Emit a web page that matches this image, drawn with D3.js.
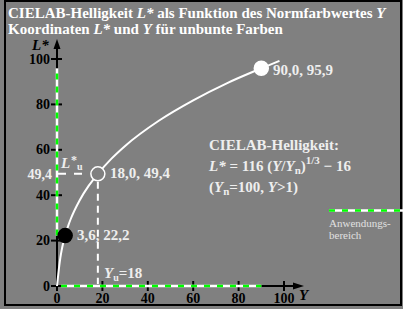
<!DOCTYPE html>
<html><head><meta charset="utf-8">
<script src="https://cdn.jsdelivr.net/npm/d3@7"></script>
<style>html,body{margin:0;padding:0;background:#808080;}svg{display:block;}text{font-family:"Liberation Serif","DejaVu Serif",serif;}</style>
</head><body>
<script>
// Data
const xTicks = [0, 20, 40, 60, 80, 100];
const yTicks = [0, 20, 40, 60, 80, 100];
const curveY = [0, 0.3, 1, 1.5, 2, 2.7, 3.6, 5, 6, 10, 14, 18, 24, 30, 45, 60, 75, 90, 98];
const curveL = [0, 2.7, 9.0, 12.6, 15.5, 18.8, 22.2, 26.7, 29.4, 37.8, 44.2, 49.4, 56.1, 61.7, 72.9, 81.8, 89.4, 95.9, 99.2];
const pointY = [3.6, 18.0, 90.0];
const pointL = [22.2, 49.4, 95.9];
const pointLabels = ["3,6, 22,2", "18,0, 49,4", "90,0, 95,9"];
const rangeY = [0, 90];      // Anwendungsbereich on Y axis
const rangeL = [22.2, 95.9]; // Anwendungsbereich on L* axis

const W = 403, H = 309;
const svg = d3.select("body").append("svg").attr("width", W).attr("height", H);
svg.append("rect").attr("width", W).attr("height", H).attr("fill", "#808080");
svg.append("rect").attr("x", 5).attr("y", 1).attr("width", 396).attr("height", 304)
  .attr("fill", "none").attr("stroke", "#000").attr("stroke-width", 2);

const x = d3.scaleLinear().domain([0, 100]).range([57, 284]);
const y = d3.scaleLinear().domain([0, 100]).range([286, 59]);

// Title
const t1 = svg.append("text").attr("x", 8).attr("y", 18).attr("fill", "#fff")
  .attr("font-size", 15).attr("font-weight", "bold");
t1.append("tspan").text("CIELAB-Helligkeit ");
t1.append("tspan").attr("font-style", "italic").text("L*");
t1.append("tspan").text(" als Funktion des Normfarbwertes ");
t1.append("tspan").attr("font-style", "italic").text("Y");
const t2 = svg.append("text").attr("x", 8).attr("y", 34).attr("fill", "#fff")
  .attr("font-size", 15).attr("font-weight", "bold");
t2.append("tspan").text("Koordinaten ");
t2.append("tspan").attr("font-style", "italic").text("L*");
t2.append("tspan").text(" und ");
t2.append("tspan").attr("font-style", "italic").text("Y");
t2.append("tspan").text(" für unbunte Farben");

// Axes (black base)
const ax = svg.append("g");
ax.append("line").attr("x1", x(0)).attr("y1", y(0)).attr("x2", x(0)).attr("y2", 46)
  .attr("stroke", "#000").attr("stroke-width", 2);
ax.append("path").attr("d", `M${x(0)},39 L${x(0)-3.5},49 L${x(0)+3.5},49 Z`).attr("fill", "#000");
ax.append("line").attr("x1", x(0)).attr("y1", y(0)).attr("x2", 296).attr("y2", y(0))
  .attr("stroke", "#000").attr("stroke-width", 2);
ax.append("path").attr("d", `M304,${y(0)} L293,${y(0)-3.5} L293,${y(0)+3.5} Z`).attr("fill", "#000");

// ticks
xTicks.forEach(v => {
  ax.append("line").attr("x1", x(v)).attr("x2", x(v)).attr("y1", y(0)-5).attr("y2", y(0)+5)
    .attr("stroke", "#000").attr("stroke-width", 2);
  ax.append("text").attr("x", x(v)).attr("y", 303).attr("text-anchor", "middle")
    .attr("font-size", 14).attr("font-weight", "bold").attr("fill", "#000").text(v);
});
yTicks.forEach(v => {
  ax.append("line").attr("x1", x(0)-6).attr("x2", x(0)+5).attr("y1", y(v)).attr("y2", y(v))
    .attr("stroke", "#000").attr("stroke-width", 2);
  ax.append("text").attr("x", x(0)-7).attr("y", y(v)+4.5).attr("text-anchor", "end")
    .attr("font-size", 14).attr("font-weight", "bold").attr("fill", "#000").text(v);
});
svg.append("text").attr("x", 32).attr("y", 50).attr("font-size", 15).attr("font-weight", "bold")
  .attr("font-style", "italic").attr("fill", "#000").text("L*");
svg.append("text").attr("x", 299).attr("y", 300).attr("font-size", 15).attr("font-weight", "bold")
  .attr("font-style", "italic").attr("fill", "#000").text("Y");

// Application range dashes (white + green)
function rangeLine(x1, y1, x2, y2) {
  svg.append("line").attr("x1", x1).attr("y1", y1).attr("x2", x2).attr("y2", y2)
    .attr("stroke", "#fff").attr("stroke-width", 2.5);
  svg.append("line").attr("x1", x1).attr("y1", y1).attr("x2", x2).attr("y2", y2)
    .attr("stroke", "#00ff00").attr("stroke-width", 2.5).attr("stroke-dasharray", "6,7");
}
rangeLine(x(0), y(rangeL[0]), x(0), y(rangeL[1]));
rangeLine(x(rangeY[0]) + 4, y(0), x(rangeY[1]), y(0));
rangeLine(329, 210.5, 403, 210.5);
svg.append("text").attr("x", 329).attr("y", 227).attr("font-size", 11).attr("fill", "#e0e0e0").text("Anwendungs-");
svg.append("text").attr("x", 329).attr("y", 238.5).attr("font-size", 11).attr("fill", "#e0e0e0").text("bereich");

// Guide dashed lines for the 18 / 49,4 point
svg.append("line").attr("x1", x(pointY[1])).attr("x2", x(pointY[1]))
  .attr("y1", y(pointL[1]) + 8).attr("y2", y(0) - 2)
  .attr("stroke", "#fff").attr("stroke-width", 2).attr("stroke-dasharray", "7,5");
svg.append("line").attr("x1", x(0) + 1).attr("x2", x(pointY[1]) - 8)
  .attr("y1", y(pointL[1])).attr("y2", y(pointL[1]))
  .attr("stroke", "#fff").attr("stroke-width", 2).attr("stroke-dasharray", "8,8");

// Curve
const line = d3.line().x(d => x(d[0])).y(d => y(d[1])).curve(d3.curveMonotoneX);
svg.append("path").datum(curveY.map((v, i) => [v, curveL[i]])).attr("d", line)
  .attr("fill", "none").attr("stroke", "#fff").attr("stroke-width", 2);

// Points
const pFill = ["#000", "#808080", "#fff"];
const pStroke = ["#000", "#fff", "#fff"];
pointY.forEach((v, i) => {
  svg.append("circle").attr("cx", x(v)).attr("cy", y(pointL[i])).attr("r", 7)
    .attr("fill", pFill[i]).attr("stroke", pStroke[i]).attr("stroke-width", 1.5);
});
const lblPos = [[77, 240], [110, 178], [273, 75]];
pointLabels.forEach((s, i) => {
  svg.append("text").attr("x", lblPos[i][0]).attr("y", lblPos[i][1]).attr("font-size", 15)
    .attr("font-weight", "bold").attr("fill", "#eee").text(s);
});

// 49,4 and L*u labels
svg.append("text").attr("x", 52).attr("y", y(pointL[1]) + 5).attr("text-anchor", "end")
  .attr("font-size", 14).attr("font-weight", "bold").attr("fill", "#eee").text("49,4");
svg.append("text").attr("x", 61).attr("y", 168).attr("font-size", 15).attr("font-weight", "bold")
  .attr("font-style", "italic").attr("fill", "#eee").text("L");
svg.append("text").attr("x", 71).attr("y", 164).attr("font-size", 12).attr("font-weight", "bold")
  .attr("fill", "#eee").text("*");
svg.append("text").attr("x", 77).attr("y", 170).attr("font-size", 10).attr("font-weight", "bold")
  .attr("fill", "#eee").text("u");

// Yu=18
const yu = svg.append("text").attr("x", 104).attr("y", 278).attr("font-size", 15)
  .attr("font-weight", "bold").attr("fill", "#eee");
yu.append("tspan").attr("font-style", "italic").text("Y");
yu.append("tspan").attr("font-size", 10).attr("dy", 3).text("u");
yu.append("tspan").attr("dy", -3).text("=18");

// Formula block
const fx = 209;
svg.append("text").attr("x", fx).attr("y", 150).attr("font-size", 15).attr("font-weight", "bold")
  .attr("fill", "#eee").text("CIELAB-Helligkeit:");
const f2 = svg.append("text").attr("x", fx).attr("y", 171).attr("font-size", 15)
  .attr("font-weight", "bold").attr("fill", "#eee");
f2.append("tspan").attr("font-style", "italic").text("L*");
f2.append("tspan").text(" = 116 (");
f2.append("tspan").attr("font-style", "italic").text("Y");
f2.append("tspan").text("/");
f2.append("tspan").attr("font-style", "italic").text("Y");
f2.append("tspan").attr("font-size", 11).attr("dy", 3).text("n");
f2.append("tspan").attr("dy", -3).text(")");
f2.append("tspan").attr("font-size", 11).attr("dy", -7).text("1/3");
f2.append("tspan").attr("dy", 7).text(" \u2212 16");
const f3 = svg.append("text").attr("x", fx).attr("y", 192).attr("font-size", 15)
  .attr("font-weight", "bold").attr("fill", "#eee");
f3.append("tspan").text("(");
f3.append("tspan").attr("font-style", "italic").text("Y");
f3.append("tspan").attr("font-size", 11).attr("dy", 3).text("n");
f3.append("tspan").attr("dy", -3).text("=100, ");
f3.append("tspan").attr("font-style", "italic").text("Y");
f3.append("tspan").text(">1)");
</script>
</body></html>
